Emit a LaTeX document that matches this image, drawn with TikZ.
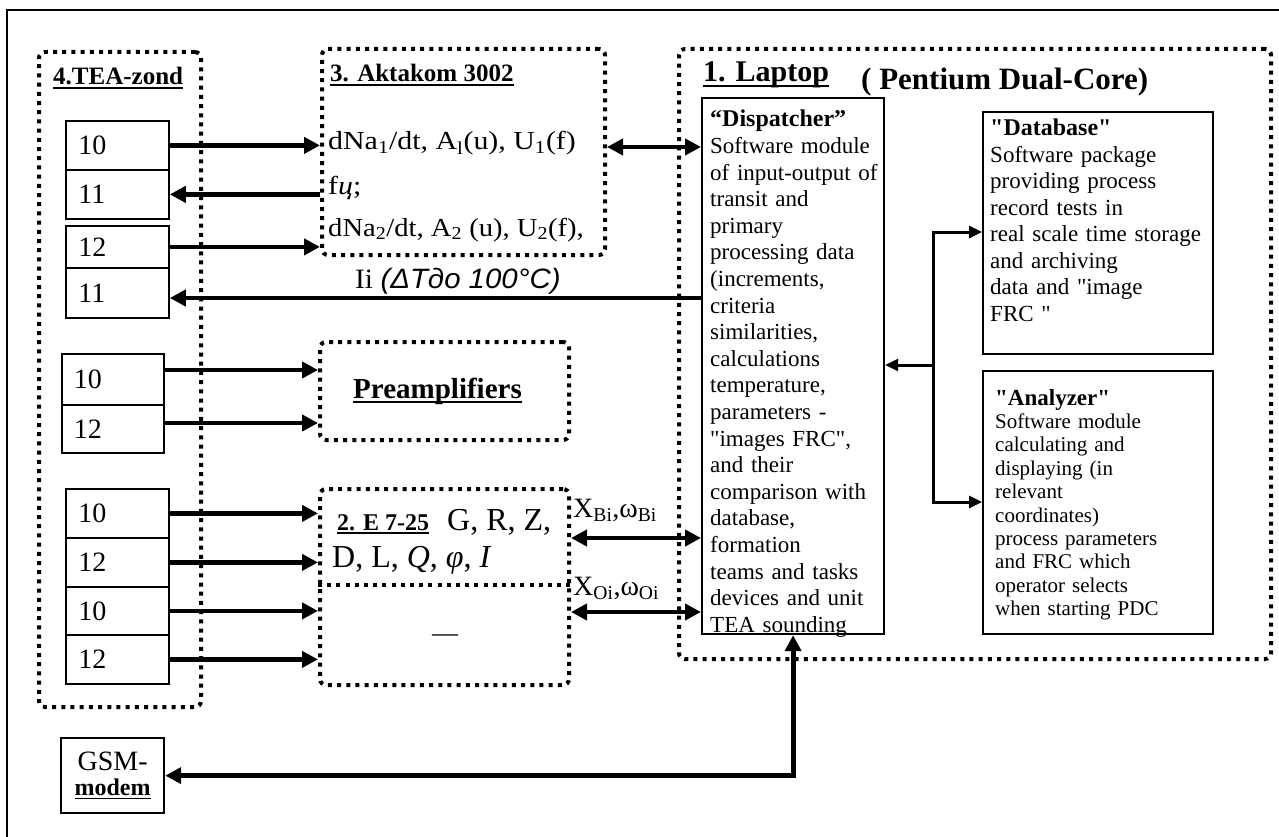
\documentclass[tikz,border=0pt]{standalone}
\usepackage{fontspec}
\setmainfont{Liberation Serif}[Ligatures=TeXOff]
\newfontfamily\sansit{Liberation Sans}[Ligatures=TeXOff]
\usepackage{graphicx}
\usetikzlibrary{arrows.meta}
\newcommand\fsz[2]{\fontsize{#1}{#2}\selectfont}
\newcommand\myul[1]{\setbox0\hbox{#1}\leavevmode\rlap{\copy0}\rule[-0.17em]{\wd0}{0.075em}}
\begin{document}
\begin{tikzpicture}[x=1pt,y=-1pt,
 dotline/.style={line width=4pt, dash pattern=on 4pt off 5.2pt},
 dotbox/.style={draw, dotline, rounded corners=6pt, inner sep=0, anchor=north west},
 solidbox/.style={draw, line width=2.2pt, inner sep=0, anchor=north west},
 cell/.style={draw, line width=1.8pt, inner sep=0, anchor=north west, minimum width=103pt, text width=78pt, align=left, font=\fsz{28}{28}},
 txt/.style={inner sep=0, anchor=north west, align=left},
 lbl/.style={inner sep=0, anchor=base west},
 arr/.style={line width=4.5pt, -{Triangle[length=16pt,width=16pt]}},
 darr/.style={line width=4.5pt, {Triangle[length=16pt,width=16pt]}-{Triangle[length=16pt,width=16pt]}},
 thinarr/.style={line width=3pt, -{Triangle[length=13pt,width=12pt]}},
]
\useasboundingbox (0,0) rectangle (1279,837);
\fill[white] (0,0) rectangle (1279,837);
\coordinate (fr1) at (7,840); \coordinate (fr2) at (7,10); \coordinate (fr3) at (1282,10);
\draw[line width=1.5pt] (fr1) -- (fr2) -- (fr3);

% TEA-zond
\node[dotbox, minimum width=162pt, minimum height=655pt] (tea) at (37,50) {};
\node[lbl, font=\bfseries\fsz{25}{25}] (teat) at (53,85) {\myul{4.TEA-zond}};
\node[cell, minimum height=49pt] (c1) at (65,120) {10};
\node[cell, minimum height=49pt] (c2) at (65,169) {11};
\node[cell, minimum height=42pt] (c3) at (65,225) {12};
\node[cell, minimum height=50pt] (c4) at (65,267) {11};
\node[cell, minimum height=51pt, minimum width=102pt] (c5) at (61,353) {10};
\node[cell, minimum height=48pt, minimum width=102pt] (c6) at (61,404) {12};
\node[cell, minimum height=49pt] (c7) at (65,488) {10};
\node[cell, minimum height=49pt] (c8) at (65,537) {12};
\node[cell, minimum height=48pt] (c9) at (65,586) {10};
\node[cell, minimum height=49pt] (c10) at (65,634) {12};

% Aktakom
\node[dotbox, minimum width=283pt, minimum height=206pt] (akt) at (320,47) {};
\node[lbl, font=\bfseries\fsz{25}{25}] (aktt) at (330,82) {\myul{3. Aktakom 3002}};
\node[lbl, font=\fsz{26}{26}] (akt1) at (328,150) {\scalebox{1.15}[1]{dNa\textsubscript{1}/dt, A\textsubscript{l}(u), U\textsubscript{1}(f)}};
\node[lbl, font=\fsz{26}{26}] (akt2) at (328,195) {\scalebox{1.15}[1]{f\textit{ц};}};
\node[lbl, font=\fsz{26}{26}] (akt3) at (328,236) {\scalebox{1.1}[1]{dNa\textsubscript{2}/dt, A\textsubscript{2} (u), U\textsubscript{2}(f),}};

% Laptop
\node[dotbox, minimum width=592pt, minimum height=610pt] (lap) at (677,47) {};
\node[lbl, font=\bfseries\fsz{30}{30}] (lapt) at (703,82) {\myul{1. Laptop}};
\node[lbl, font=\bfseries\fsz{31}{31}] (pent) at (861,90) {( Pentium Dual-Core)};

\node[solidbox, minimum width=182pt, minimum height=536pt] (disp) at (701,97) {};
\node[txt, font=\fsz{23}{26.6}, text width=185pt] (dispt) at (710,110) {{\bfseries\fsz{24}{26.6}“Dispatcher”}\\Software module\\of input-output of\\transit and\\primary\\processing data\\(increments,\\criteria\\similarities,\\calculations\\temperature,\\parameters -\\"images FRC",\\and their\\comparison with\\database,\\formation\\teams and tasks\\devices and unit\\TEA sounding};

\node[solidbox, minimum width=230pt, minimum height=242pt] (db) at (982,111) {};
\node[txt, font=\fsz{23}{26.5}, text width=220pt] (dbt) at (990,119) {{\bfseries\fsz{24}{26.5}"Database"}\\Software package\\providing process\\record tests in\\real scale time storage\\and archiving\\data and "image\\FRC "};

\node[solidbox, minimum width=230pt, minimum height=263pt] (an) at (982,370) {};
\node[txt, font=\fsz{21}{23.4}, text width=212pt] (ant) at (995,389) {{\bfseries\fsz{23}{23.4}"Analyzer"}\\Software module\\calculating and\\displaying (in\\relevant\\coordinates)\\process parameters\\and FRC which\\operator selects\\when starting PDC};

% Preamplifiers and E7-25
\node[dotbox, minimum width=249pt, minimum height=98pt, font=\bfseries\fsz{29}{29}] (pre) at (318,340) {\myul{Preamplifiers}\hspace*{14pt}};
\node[dotbox, minimum width=249pt, minimum height=196pt] (e7) at (318,487) {};
\coordinate (ydiv) at (0,585);
\draw[dotline] (e7.west |- ydiv) -- (e7.east |- ydiv);
\node[lbl, font=\bfseries\fsz{24}{24}] (e7t) at (337,530) {\myul{2. E 7-25}};
\node[lbl, font=\fsz{32}{32}] (e7a) at (447,530) {G, R, Z,};
\node[lbl, font=\fsz{32}{32}] (e7c) at (332,567) {D, L, \textit{Q}, \textit{φ}, \textit{I}};
\node[lbl, font=\fsz{26}{26}] (dash) at (432,641) {—};

\node[lbl, font=\fsz{28}{28}] (xb) at (573,517) {X\textsubscript{Bi},ω\textsubscript{Bi}};
\node[lbl, font=\fsz{28}{28}] (xo) at (573,595) {X\textsubscript{Oi},ω\textsubscript{Oi}};

% GSM
\node[solidbox, minimum width=103pt, minimum height=75pt, align=center, font=\fsz{28}{25}] (gsm) at (60,737) {GSM-\\{\bfseries\fsz{24}{25}\myul{modem}}};

% connectors
\draw[arr] (c1.east) -- (c1.east -| akt.west);
\draw[arr] (c2.east -| akt.west) -- (c2.east);
\draw[arr] (c3.east) -- (c3.east -| akt.west);
\coordinate (yIi) at (0,298);
\draw[arr] (disp.west |- yIi) -- (c4.east |- yIi);
\node[lbl, font=\fsz{28}{28}] (iil) at (355,288) {\scalebox{1.05}[1]{Ii {\sansit\itshape (ΔTдо 100°C)}}};
\coordinate (yAD) at (0,147);
\draw[darr] (akt.east |- yAD) -- (disp.west |- yAD);

\coordinate (yP1) at (0,370);
\coordinate (yP2) at (0,423);
\draw[arr] (c5.east |- yP1) -- (pre.west |- yP1);
\draw[arr] (c6.east |- yP2) -- (pre.west |- yP2);

\draw[arr] (c7.east) -- (c7.east -| e7.west);
\draw[arr] (c8.east) -- (c8.east -| e7.west);
\draw[arr] (c9.east) -- (c9.east -| e7.west);
\draw[arr] (c10.east) -- (c10.east -| e7.west);

\coordinate (yXB) at (0,538);
\coordinate (yXO) at (0,612);
\draw[darr] (e7.east |- yXB) -- (disp.west |- yXB);
\draw[darr] (e7.east |- yXO) -- (disp.west |- yXO);

\coordinate (bxt) at (933,232);
\coordinate (bxm) at (933,365);
\coordinate (bxb) at (933,502);
\draw[thinarr] (bxm) -- (bxt) -- (bxt -| db.west);
\draw[thinarr] (bxm) -- (bxb) -- (bxb -| an.west);
\draw[thinarr] (bxm) -- (bxm -| disp.east);

\draw[darr, line width=5pt] (gsm.east) -- (gsm.east -| disp.south) -- (disp.south);
\end{tikzpicture}
\end{document}
